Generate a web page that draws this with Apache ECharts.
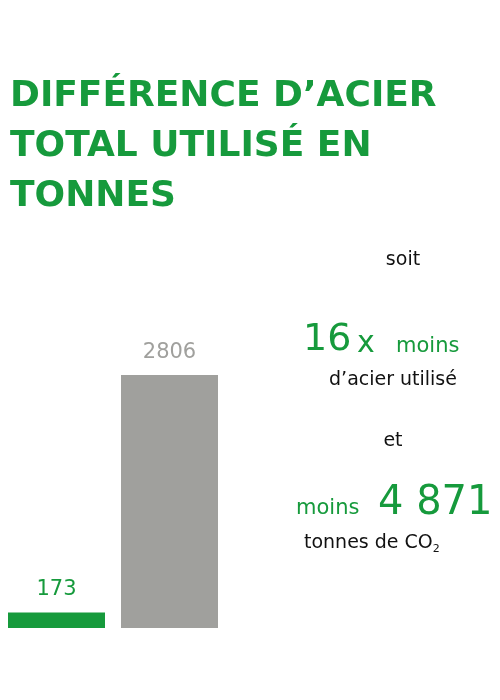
<!DOCTYPE html>
<html><head><meta charset="utf-8">
<script src="https://cdn.jsdelivr.net/npm/echarts@6/dist/echarts.min.js"></script>
<style>html,body{margin:0;padding:0;background:#fff}#c{width:500px;height:700px}</style>
</head><body><div id="c"></div>
<script>
const categories = ['Acier A', 'Acier B'];
const values = [173, 2806];
const barColors = ['#169a3c', '#a0a09d'];
const titleLines = ['DIFFÉRENCE D’ACIER', 'TOTAL UTILISÉ EN', 'TONNES'];
const G = '#169a3c', F = '"DejaVu Sans", sans-serif';
const chart = echarts.init(document.getElementById('c'));
const t = (x, y, text, size, color, align, weight) => ({type:'text', x, y, style:{text, fontSize:size, fill:color, fontFamily:F, fontWeight:weight||'normal', textAlign:align||'center', textVerticalAlign:'middle'}});
chart.setOption({
  animation:false,
  grid:{left:0, width:226, top:375, bottom:72},
  xAxis:{type:'category', data:categories, show:false},
  yAxis:{type:'value', min:0, max:2806, show:false},
  series:[{type:'bar', barWidth:97, data:values.map((v,i)=>({value:v, itemStyle:{color:barColors[i]}, label:{color:barColors[i]}})),
    label:{show:true, position:'top', distance:12, fontSize:21, fontFamily:F}}],
  graphic:[
    ...titleLines.map((s,i)=>t(10, 97+i*50, s, 36, G, 'left', 'bold')),
    t(403, 260, 'soit', 19, '#111'),
    t(303, 340, '16', 38, G, 'left'),
    t(357, 344, 'x', 30, G, 'left'),
    t(396, 347, 'moins', 21, G, 'left'),
    t(393, 380, 'd’acier utilisé', 19, '#111'),
    t(393, 441, 'et', 19, '#111'),
    t(296, 509, 'moins', 21, G, 'left'),
    t(378, 504, '4 871', 40, G, 'left'),
    {type:'text', x:304, y:543, style:{text:'tonnes de {a|CO}{b|2}', fontSize:19, fill:'#111', fontFamily:F, textVerticalAlign:'middle', rich:{a:{fontSize:19, fontFamily:F, fill:'#111'}, b:{fontSize:11, fontFamily:F, fill:'#111', padding:[12,0,0,0]}}}}
  ]
});
</script></body></html>
